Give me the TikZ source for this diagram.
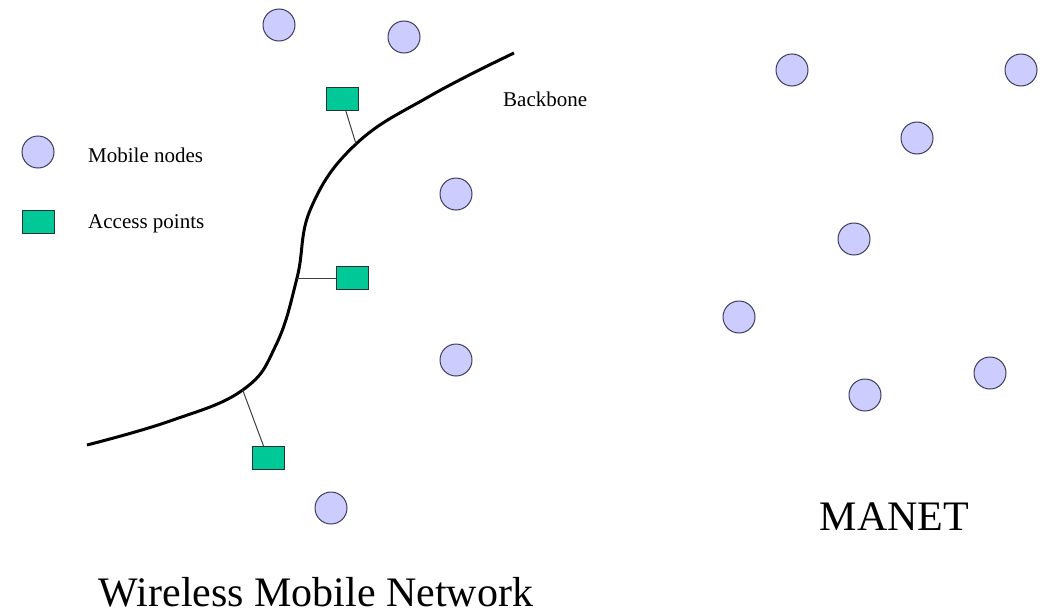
\documentclass[tikz,border=0pt]{standalone}
\usepackage{fontspec}
\setmainfont{Liberation Serif}
\definecolor{nodefill}{RGB}{204,204,255}
\definecolor{nodedraw}{RGB}{60,60,90}
\definecolor{apfill}{RGB}{0,200,150}
\definecolor{apdraw}{RGB}{40,50,50}
\begin{document}
\begin{tikzpicture}[x=1pt,y=-1pt,
  mnode/.style={circle,draw=nodedraw,fill=nodefill,line width=1pt,minimum size=32pt,inner sep=0pt},
  apnode/.style={rectangle,draw=apdraw,fill=apfill,line width=0.9pt,minimum width=32pt,minimum height=23pt,inner sep=0pt},
  aplink/.style={draw=black!75,line width=1pt},
  smalltxt/.style={font=\fontsize{21}{25}\selectfont,inner sep=0pt},
  bigtxt/.style={font=\fontsize{42}{48}\selectfont,inner sep=0pt}]
\useasboundingbox (0,0) rectangle (1051,613);
% backbone
\coordinate (c1) at (356,144);
\coordinate (c2) at (297,278);
\coordinate (c3) at (242.7,390);
\draw[line width=3pt,line join=round] plot[smooth,tension=0.7] coordinates {(87,445) (170,421) (c3) (276,345) (c2) (311,208) (c1) (430,96) (514,53)};
% access points
\node[apnode] (ap1) at (342,98.5) {};
\node[apnode] (ap2) at (352,278) {};
\node[apnode] (ap3) at (268,458) {};
\draw[aplink] (c1) -- (ap1);
\draw[aplink] (c2) -- (ap2);
\draw[aplink] (c3) -- (ap3);
% mobile nodes (left)
\node[mnode] (w1) at (279,25) {};
\node[mnode] (w2) at (404,37) {};
\node[mnode] (w3) at (456,194) {};
\node[mnode] (w4) at (456,360) {};
\node[mnode] (w5) at (331,508) {};
% MANET nodes
\node[mnode] (m1) at (792,70) {};
\node[mnode] (m2) at (1021,70) {};
\node[mnode] (m3) at (917,138) {};
\node[mnode] (m4) at (854,239) {};
\node[mnode] (m5) at (739,317) {};
\node[mnode] (m6) at (865,395) {};
\node[mnode] (m7) at (990,373) {};
% legend
\node[mnode] (lm) at (38,152) {};
\node[apnode] (la) at (38,221.5) {};
\node[smalltxt,anchor=base west] (lmt) at (88,162) {Mobile nodes};
\node[smalltxt,anchor=base west] (lat) at (88,228) {Access points};
\node[smalltxt,anchor=base west] (bb) at (503,106) {Backbone};
% titles
\node[bigtxt,anchor=base] (t1) at (316,606) {Wireless Mobile Network};
\node[bigtxt,anchor=base] (t2) at (894.5,530) {MANET};
\end{tikzpicture}
\end{document}
